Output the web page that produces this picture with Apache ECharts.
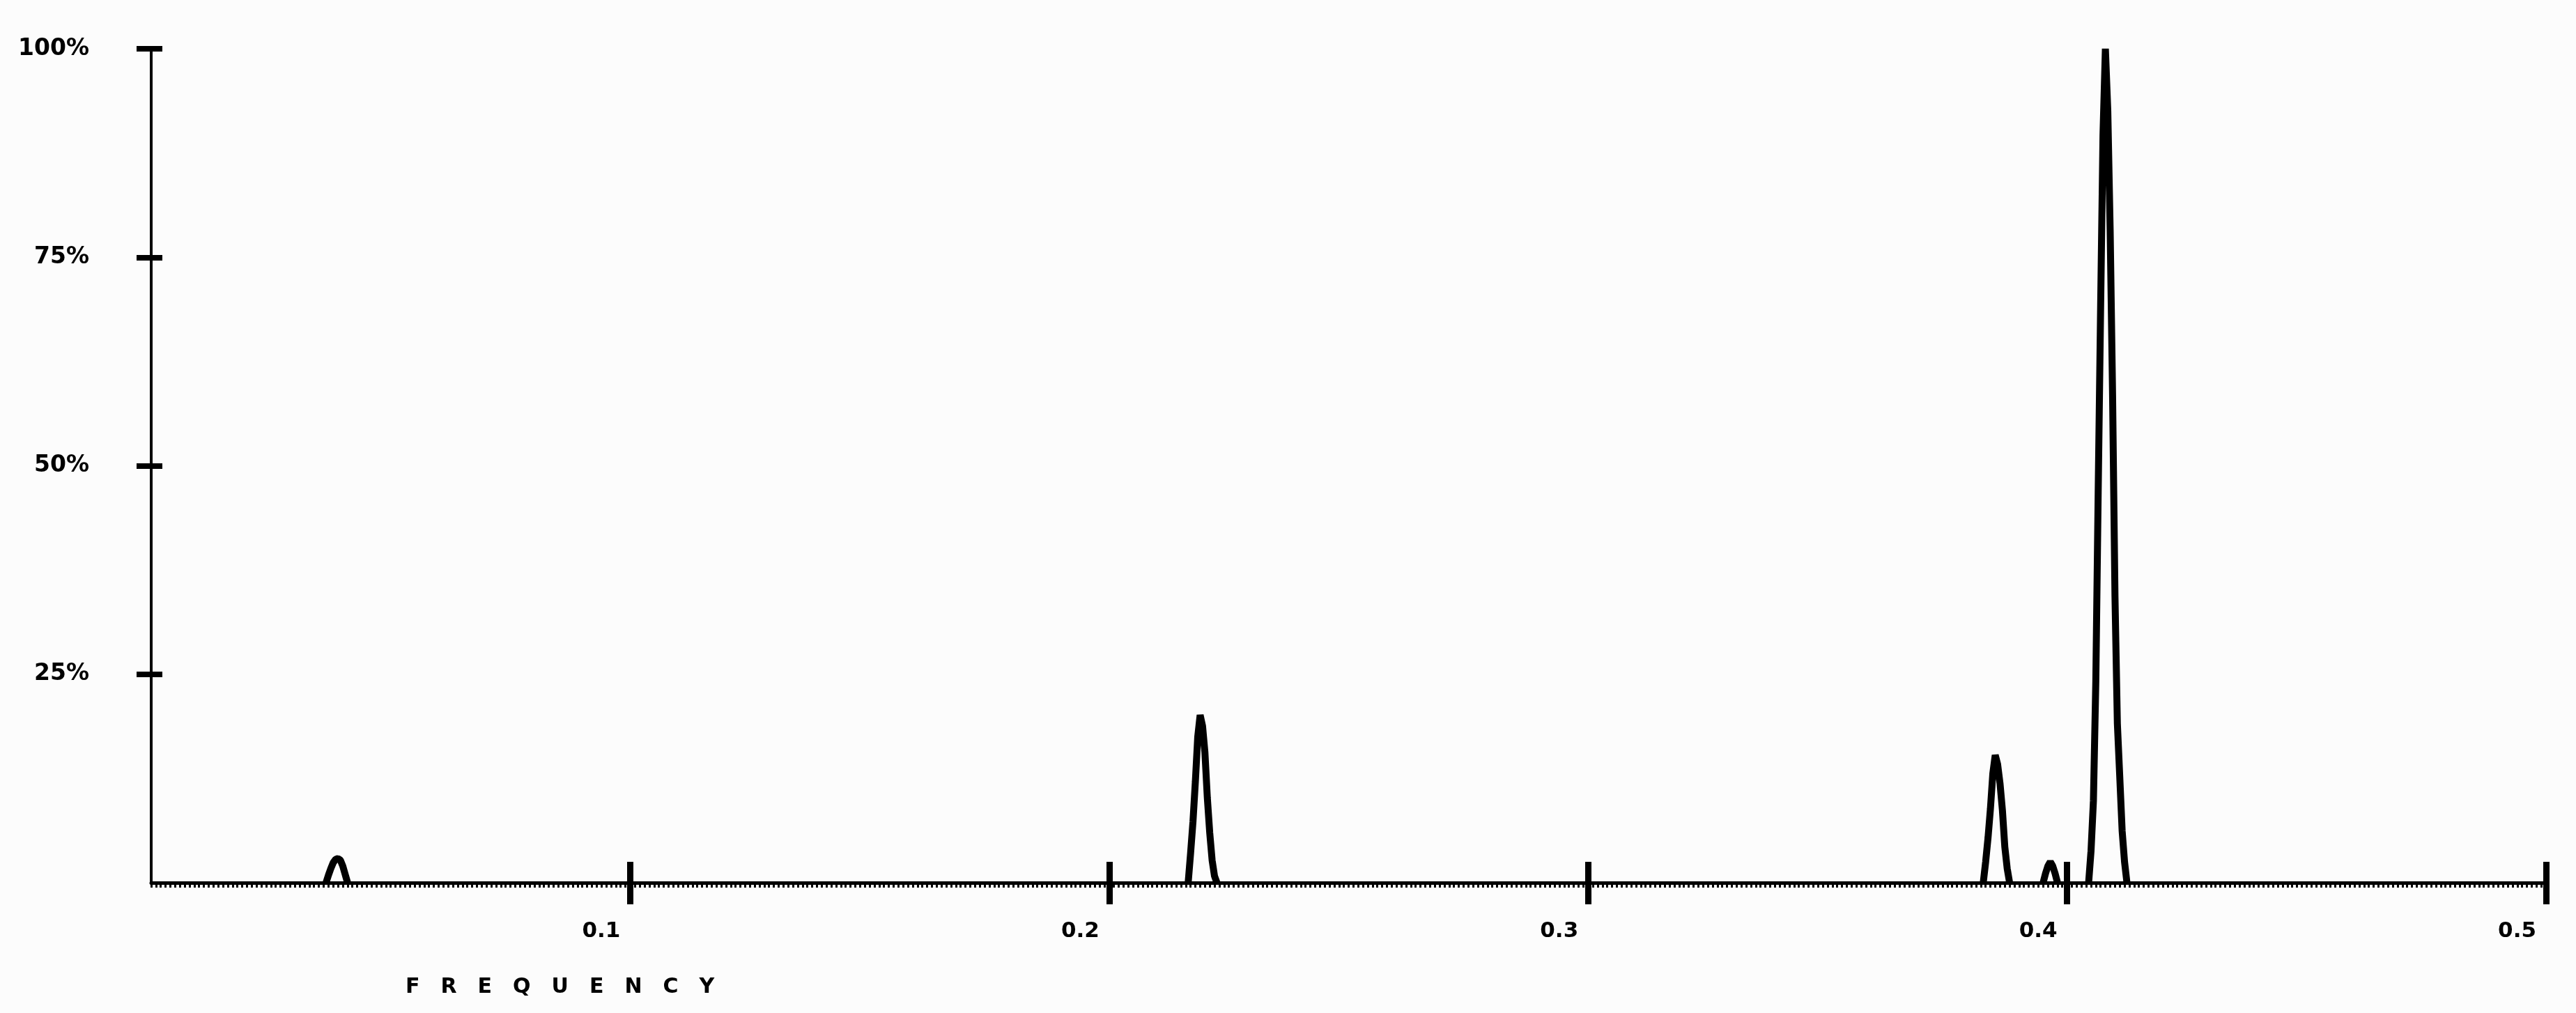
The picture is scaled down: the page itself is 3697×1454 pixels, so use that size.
<!DOCTYPE html>
<html>
<head>
<meta charset="utf-8">
<script src="https://cdn.jsdelivr.net/npm/echarts@6/dist/echarts.min.js"></script>
<style>
html,body{margin:0;padding:0;background:#fcfcfc;}
#chart{width:3697px;height:1454px;}
</style>
</head>
<body>
<div id="chart"></div>
<script>
// Spectrum samples (null = gap, flat baseline between peaks)
const frequency = [
  0.0365, 0.037, 0.0375, 0.038, 0.0385, 0.039, 0.0395, 0.04, 0.0405, 0.041,
  0.1,
  0.2165, 0.217, 0.2175, 0.218, 0.2185, 0.219, 0.2195, 0.22, 0.2205, 0.221, 0.2215, 0.222, 0.2225,
  0.3,
  0.3825, 0.383, 0.3835, 0.384, 0.3845, 0.385, 0.3855, 0.386, 0.3865, 0.387, 0.3875, 0.388,
  0.3915,
  0.395, 0.3955, 0.396, 0.3965, 0.397, 0.3975, 0.398,
  0.402,
  0.4045, 0.405, 0.4055, 0.406, 0.4065, 0.407, 0.4075, 0.408, 0.4085, 0.409, 0.4095, 0.41, 0.4105, 0.411, 0.4115, 0.412, 0.4125
];
const power = [
  0, 0.9, 1.7, 2.4, 2.8, 2.9, 2.7, 2.0, 1.0, 0,
  null,
  0, 3.5, 7.3, 12.1, 17.5, 20.1, 18.8, 15.6, 10.2, 6.0, 2.7, 0.8, 0,
  null,
  0, 2.5, 5.4, 8.9, 13.1, 15.3, 14.2, 11.9, 8.7, 4.3, 1.7, 0,
  null,
  0, 1.1, 2.0, 2.5, 2.0, 1.1, 0,
  null,
  0, 3.8, 9.8, 24.1, 47.0, 68.8, 89.7, 100, 92.6, 78.1, 58.5, 34.4, 19.1, 12.7, 6.2, 2.5, 0
];
const xTickValues = [0.1, 0.2, 0.3, 0.4, 0.5];
const xTickLabels = ['0.1', '0.2', '0.3', '0.4', '0.5'];
const xMinorStep = 0.001;
const yTickValues = [25, 50, 75, 100];
const yTickLabels = ['25%', '50%', '75%', '100%'];
const xAxisTitle = 'FREQUENCY';

const seriesData = frequency.map((f, i) => [f, power[i]]);
const fontFam = '"DejaVu Sans", sans-serif';

const chart = echarts.init(document.getElementById('chart'), null, {renderer: 'canvas'});
chart.setOption({
  backgroundColor: '#fcfcfc',
  animation: false,
  title: {
    text: xAxisTitle.split('').join('\u2003'),
    left: 582,
    top: 1402,
    padding: 0,
    textStyle: {fontFamily: fontFam, fontSize: 30, fontWeight: 'bold', color: '#000'}
  },
  grid: {left: 217, right: 43, top: 70, bottom: 187, containLabel: false},
  xAxis: [
    {
      type: 'value', min: 0, max: 0.5, interval: 0.1, position: 'bottom',
      axisLine: {show: true, onZero: false, lineStyle: {color: '#000', width: 5}},
      axisTick: {show: true, inside: false, length: 31, customValues: xTickValues,
        lineStyle: {color: '#000', width: 9}},
      axisLabel: {
        show: true, customValues: xTickValues,
        formatter: v => xTickLabels[xTickValues.findIndex(t => Math.abs(t - v) < 1e-9)] || '',
        align: 'right', verticalAlign: 'middle', margin: 70, padding: [0, 14, 0, 0],
        fontFamily: fontFam, fontSize: 31, fontWeight: 'bold', color: '#000'
      },
      splitLine: {show: false}
    },
    {
      type: 'value', min: 0, max: 0.5, interval: 0.1, position: 'bottom',
      axisLine: {show: false, onZero: false},
      axisTick: {show: true, inside: true, length: 30, customValues: xTickValues,
        lineStyle: {color: '#000', width: 9}},
      axisLabel: {show: false},
      splitLine: {show: false}
    },
    {
      type: 'value', min: 0, max: 0.5, interval: xMinorStep, position: 'bottom',
      axisLine: {show: false, onZero: false},
      axisTick: {show: true, inside: false, length: 7, lineStyle: {color: '#000', width: 3}},
      axisLabel: {show: false},
      splitLine: {show: false}
    }
  ],
  yAxis: [
    {
      type: 'value', min: 0, max: 100, interval: 25, position: 'left',
      axisLine: {show: true, onZero: false, lineStyle: {color: '#000', width: 4}},
      axisTick: {show: true, inside: false, length: 21, customValues: yTickValues,
        lineStyle: {color: '#000', width: 8}},
      axisLabel: {
        show: true, customValues: yTickValues,
        formatter: v => yTickLabels[yTickValues.indexOf(v)] || '',
        margin: 89, verticalAlign: 'middle', padding: [20, 0, 0, 0],
        fontFamily: fontFam, fontSize: 33, fontWeight: 'bold', color: '#000'
      },
      splitLine: {show: false}
    },
    {
      type: 'value', min: 0, max: 100, interval: 25, position: 'left',
      axisLine: {show: false, onZero: false},
      axisTick: {show: true, inside: true, length: 16, customValues: yTickValues,
        lineStyle: {color: '#000', width: 8}},
      axisLabel: {show: false},
      splitLine: {show: false}
    }
  ],
  series: [{
    type: 'line',
    xAxisIndex: 0, yAxisIndex: 0,
    data: seriesData,
    symbol: 'none',
    connectNulls: false,
    clip: false,
    silent: true,
    z: 3,
    lineStyle: {color: '#000', width: 10, join: 'bevel'}
  }]
});
</script>
</body>
</html>
